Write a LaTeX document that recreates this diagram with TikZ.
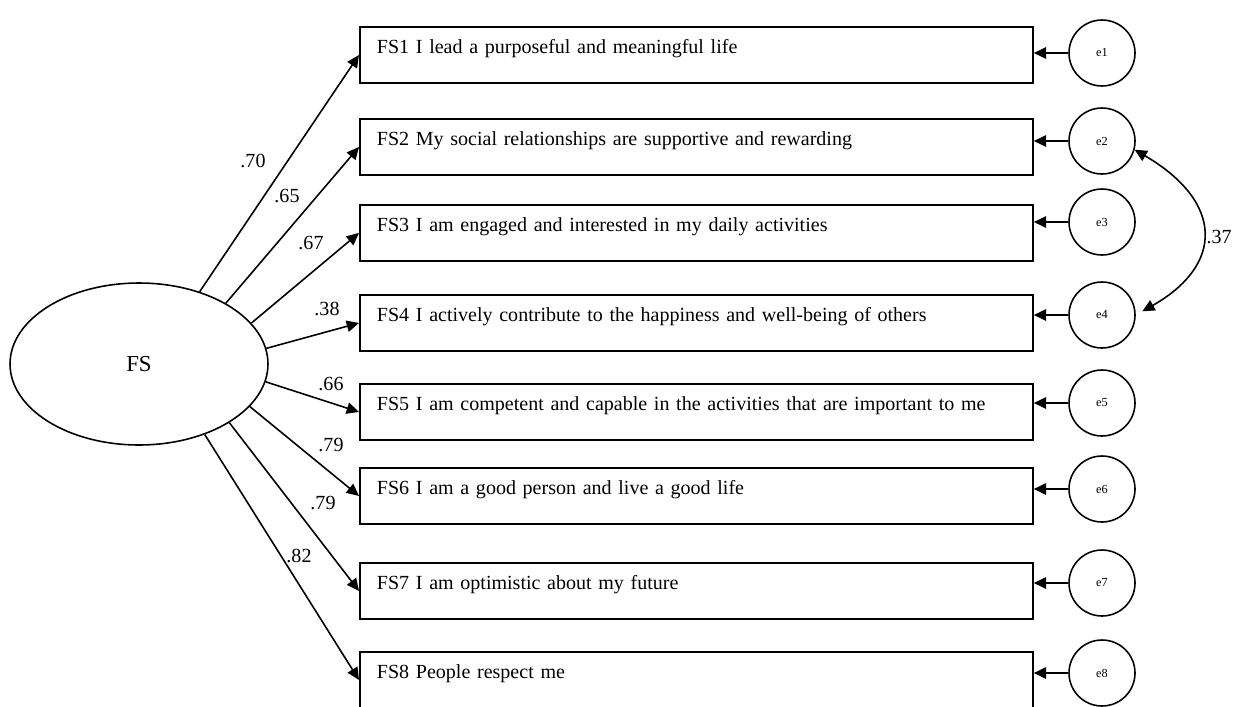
\documentclass[tikz,border=0pt]{standalone}
\usepackage{fontspec}
\setmainfont{Liberation Serif}
\usetikzlibrary{arrows.meta,shapes.geometric}

\begin{document}
\begin{tikzpicture}[x=0.02cm,y=-0.02cm,line width=0.9pt,>={Triangle[length=7pt,width=6.5pt]}]
\tikzstyle{latent}=[draw,ellipse,inner sep=0pt,minimum width=5.16cm,minimum height=3.24cm,font=\fontsize{13}{15}\selectfont]
\tikzstyle{item}=[draw,rectangle,line width=1.1pt,anchor=north west,inner sep=0pt,inner xsep=0.34cm,text width=12.78cm,align=left,text height=0.54cm,text depth=0.58cm,font=\fontsize{11.4}{13}\selectfont]
\tikzstyle{error}=[draw,circle,inner sep=0pt,minimum size=1.32cm,font=\fontsize{7}{8}\selectfont]
\tikzstyle{loading}=[inner sep=1pt,font=\fontsize{11.4}{13}\selectfont]
\useasboundingbox (0,0) rectangle (1239,706);

% Draw the latent factor
\node[latent] (FS) at (139,364) {FS};

% Draw the item boxes
\foreach \name/\y/\txt in {1/26/{I lead a purposeful and meaningful life},
  2/118/{My social relationships are supportive and rewarding},
  3/204/{I am engaged and interested in my daily activities},
  4/294/{I actively contribute to the happiness and well-being of others},
  5/383/{I am competent and capable in the activities that are important to me},
  6/467/{I am a good person and live a good life},
  7/562/{I am optimistic about my future},
  8/651/{People respect me}}
\node[item] (FS\name) at (359,\y) {FS\name\ \txt};

% Draw the error terms
\foreach \name/\y in {1/53,2/141,3/222,4/315,5/403,6/489,7/583,8/673}
\node[error] (e\name) at (1102,\y) {e\name};

\foreach \name in {1,...,8}
\draw[->] (e\name.west) -- (e\name.west -| FS\name.east);

% Connect the factor with every item
\foreach \name/\a in {1/50,2/35,3/20,4/7,5/-8,6/-21,7/-33,8/-47}
\draw[->] (FS.\a) -- (FS\name.west);

% Write the loadings
\foreach \name/\x/\y/\val in {1/253/161/.70,2/287/196/.65,3/311/243/.67,4/327/309/.38,
  5/331/384/.66,6/331/445/.79,7/323/503/.79,8/299/556/.82}
\node[loading] (L\name) at (\x,\y) {\val};

% Correlated errors
\draw[<->,shorten >=0.15cm] (e2.-15) .. controls (1224,202) and (1224,265) .. (e4.east);
\node[loading,anchor=west] (r24) at (1204,237) {.37};

\end{tikzpicture}
\end{document}
